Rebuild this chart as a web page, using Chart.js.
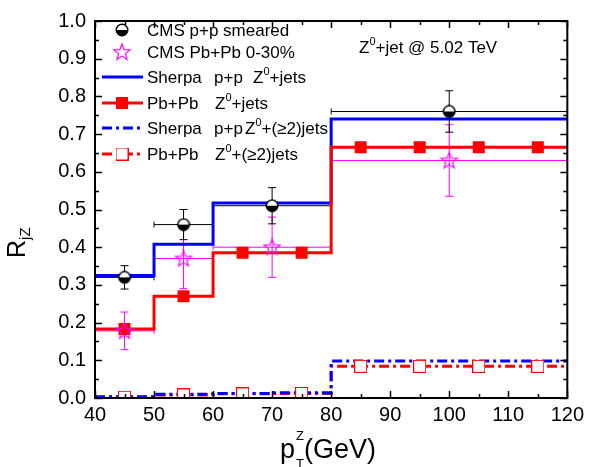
<!DOCTYPE html>
<html>
<head>
<meta charset="utf-8">
<script src="https://cdn.jsdelivr.net/npm/chart.js@4.4.0/dist/chart.umd.min.js"></script>
<style>
  body { margin: 0; background: #fff; }
  #box { width: 589px; height: 467px; }
</style>
</head>
<body>
<div id="box"><canvas id="rjz" width="589" height="467"></canvas></div>
<script>
// bins of the step curves (GeV)
var binEdges = [40, 50, 60, 70, 80, 90, 100, 110, 120];
var binCenters = [45, 55, 65, 75, 85, 95, 105, 115];

// Sherpa curves, one value per bin
var sherpaPP = [0.325, 0.408, 0.517, 0.517, 0.740, 0.740, 0.740, 0.740];
var pbpb = [0.183, 0.270, 0.385, 0.385, 0.665, 0.665, 0.665, 0.665];
var sherpaPP2 = [0.003, 0.010, 0.012, 0.014, 0.098, 0.098, 0.098, 0.098];
var pbpb2 = [0.002, 0.008, 0.011, 0.012, 0.084, 0.084, 0.084, 0.084];

// CMS data
var cmsX = [45, 55, 70, 100];
var cmsXlo = [40, 50, 60, 80];
var cmsXhi = [50, 60, 80, 120];
var cmsPP = [0.320, 0.460, 0.510, 0.760];
var cmsPPerr = [0.031, 0.040, 0.048, 0.055];
var cmsPbPb = [0.178, 0.370, 0.400, 0.630];
var cmsPbPbErr = [0.050, 0.080, 0.080, 0.095];

var yTicks = [0, 0.1, 0.2, 0.3, 0.4, 0.5, 0.6, 0.7, 0.8, 0.9, 1.0];

var FONT = "'Liberation Sans', Arial, sans-serif";
var BLUE = '#0000ff', RED = '#ff0000', MAG = '#ff00ff';

function stepData(vals) {
  var out = [];
  for (var i = 0; i < binEdges.length; i++) {
    out.push({ x: binEdges[i], y: vals[Math.min(i, vals.length - 1)] });
  }
  return out;
}
function pts(xs, ys) {
  var out = [];
  for (var i = 0; i < xs.length; i++) out.push({ x: xs[i], y: ys[i] });
  return out;
}

// marker images
function halfCircle() {
  var c = document.createElement('canvas');
  c.width = 14; c.height = 14;
  var g = c.getContext('2d');
  g.beginPath(); g.arc(7, 7, 5.8, 0, Math.PI * 2); g.fillStyle = '#fff'; g.fill();
  g.beginPath(); g.arc(7, 7, 5.8, 0, Math.PI); g.fillStyle = '#000'; g.fill();
  g.beginPath(); g.arc(7, 7, 5.8, 0, Math.PI * 2); g.lineWidth = 1.4; g.strokeStyle = '#000'; g.stroke();
  return c;
}
function starPath(g, cx, cy, ro, ri) {
  g.beginPath();
  for (var k = 0; k < 10; k++) {
    var r = k % 2 ? ri : ro;
    var a = -Math.PI / 2 + k * Math.PI / 5;
    var px = cx + r * Math.cos(a), py = cy + r * Math.sin(a);
    if (k == 0) g.moveTo(px, py); else g.lineTo(px, py);
  }
  g.closePath();
}
function openStar() {
  var c = document.createElement('canvas');
  c.width = 20; c.height = 20;
  var g = c.getContext('2d');
  starPath(g, 10, 10.5, 8.5, 3.6);
  g.lineWidth = 1.2; g.strokeStyle = MAG; g.stroke();
  return c;
}
function openSquare() {
  var c = document.createElement('canvas');
  c.width = 13; c.height = 13;
  var g = c.getContext('2d');
  g.fillStyle = '#fff'; g.fillRect(0.5, 0.5, 12, 12);
  g.lineWidth = 1; g.strokeStyle = RED; g.strokeRect(0.5, 0.5, 12, 12);
  return c;
}
var imgHalf = halfCircle(), imgStar = openStar(), imgOpenSq = openSquare();

function errBars(ctx, xs, ys, yv, ye, color) {
  ctx.save();
  ctx.strokeStyle = color; ctx.lineWidth = 1;
  for (var i = 0; i < cmsX.length; i++) {
    var px = xs.getPixelForValue(cmsX[i]);
    var py = ys.getPixelForValue(yv[i]);
    var x0 = xs.getPixelForValue(cmsXlo[i]), x1 = xs.getPixelForValue(cmsXhi[i]);
    var yt = ys.getPixelForValue(yv[i] + ye[i]), yb = ys.getPixelForValue(yv[i] - ye[i]);
    ctx.beginPath();
    ctx.moveTo(x0, py); ctx.lineTo(x1, py);
    ctx.moveTo(x0, py - 3); ctx.lineTo(x0, py + 3);
    ctx.moveTo(x1, py - 3); ctx.lineTo(x1, py + 3);
    ctx.moveTo(px, yt); ctx.lineTo(px, yb);
    ctx.moveTo(px - 4, yt); ctx.lineTo(px + 4, yt);
    ctx.moveTo(px - 4, yb); ctx.lineTo(px + 4, yb);
    ctx.stroke();
  }
  ctx.restore();
}

// text with super/subscript pieces: [text, kind]
function rich(ctx, parts, x, y, size) {
  ctx.textBaseline = 'alphabetic';
  ctx.textAlign = 'left';
  for (var i = 0; i < parts.length; i++) {
    var t = parts[i][0], k = parts[i][1];
    if (k == 'sup') {
      ctx.font = Math.round(size * 0.65) + 'px ' + FONT;
      ctx.fillText(t, x, y - size * 0.45);
    } else {
      ctx.font = size + 'px ' + FONT;
      ctx.fillText(t, x, y);
    }
    x += ctx.measureText(t).width;
  }
}

var decor = {
  id: 'decor',
  beforeDatasetsDraw: function (chart) {
    var ctx = chart.ctx, xs = chart.scales.x, ys = chart.scales.y;
    errBars(ctx, xs, ys, cmsPbPb, cmsPbPbErr, MAG);
    errBars(ctx, xs, ys, cmsPP, cmsPPerr, '#000');
  },
  afterDraw: function (chart) {
    var ctx = chart.ctx, a = chart.chartArea, xs = chart.scales.x, ys = chart.scales.y;
    ctx.save();
    // ticks, inward on all sides
    ctx.strokeStyle = '#000'; ctx.lineWidth = 1.5;
    ctx.beginPath();
    for (var v = 40; v <= 120; v += 5) {
      var px = Math.round(xs.getPixelForValue(v)) + 0.5;
      var L = (v % 10 == 0) ? 7 : 4;
      ctx.moveTo(px, a.bottom); ctx.lineTo(px, a.bottom - L);
      ctx.moveTo(px, a.top); ctx.lineTo(px, a.top + L);
    }
    for (var k = 0; k <= 20; k++) {
      var py = Math.round(ys.getPixelForValue(k * 0.05)) + 0.5;
      var L2 = (k % 2 == 0) ? 7 : 4;
      ctx.moveTo(a.left, py); ctx.lineTo(a.left + L2, py);
      ctx.moveTo(a.right, py); ctx.lineTo(a.right - L2, py);
    }
    ctx.stroke();
    // frame
    ctx.lineWidth = 2;
    ctx.strokeRect(a.left, a.top, a.right - a.left, a.bottom - a.top);

    // legend
    var rows = [30, 52, 77, 103, 128, 154];
    var lx0 = 102, lx1 = 143, mx = 122;
    ctx.drawImage(imgHalf, mx - 7, rows[0] - 7);
    ctx.drawImage(imgStar, mx - 10, rows[1] - 10);
    ctx.lineWidth = 3;
    ctx.strokeStyle = BLUE;
    ctx.beginPath(); ctx.moveTo(lx0, rows[2]); ctx.lineTo(lx1, rows[2]); ctx.stroke();
    ctx.strokeStyle = RED;
    ctx.beginPath(); ctx.moveTo(lx0, rows[3]); ctx.lineTo(lx1, rows[3]); ctx.stroke();
    ctx.fillStyle = RED; ctx.fillRect(mx - 6, rows[3] - 6, 12, 12);
    ctx.setLineDash([10, 4, 3, 4]);
    ctx.strokeStyle = BLUE;
    ctx.beginPath(); ctx.moveTo(lx0, rows[4]); ctx.lineTo(lx1, rows[4]); ctx.stroke();
    ctx.strokeStyle = RED;
    ctx.beginPath(); ctx.moveTo(lx0, rows[5]); ctx.lineTo(lx1, rows[5]); ctx.stroke();
    ctx.setLineDash([]);
    ctx.drawImage(imgOpenSq, mx - 6.5, rows[5] - 6.5);

    ctx.fillStyle = '#000';
    var s = 17, off = 6;
    rich(ctx, [['CMS p+p smeared', 'n']], 147, rows[0] + off, s);
    rich(ctx, [['CMS Pb+Pb 0-30%', 'n']], 147, rows[1] + off, s);
    rich(ctx, [['Sherpa', 'n']], 147, rows[2] + off, s);
    rich(ctx, [['p+p', 'n']], 214, rows[2] + off, s);
    rich(ctx, [['Z', 'n'], ['0', 'sup'], ['+jets', 'n']], 253, rows[2] + off, s);
    rich(ctx, [['Pb+Pb', 'n']], 147, rows[3] + off, s);
    rich(ctx, [['Z', 'n'], ['0', 'sup'], ['+jets', 'n']], 215, rows[3] + off, s);
    rich(ctx, [['Sherpa', 'n']], 147, rows[4] + off, s);
    rich(ctx, [['p+p', 'n']], 214, rows[4] + off, s);
    rich(ctx, [['Z', 'n'], ['0', 'sup'], ['+(\u22652)jets', 'n']], 245, rows[4] + off, s);
    rich(ctx, [['Pb+Pb', 'n']], 147, rows[5] + off, s);
    rich(ctx, [['Z', 'n'], ['0', 'sup'], ['+(\u22652)jets', 'n']], 215, rows[5] + off, s);

    // annotation
    rich(ctx, [['Z', 'n'], ['0', 'sup'], ['+jet @ 5.02 TeV', 'n']], 359, 53, 17);

    // x title: p_T^Z(GeV)
    ctx.font = '27px ' + FONT;
    ctx.fillText('p', 280, 458);
    ctx.font = '13px ' + FONT;
    ctx.fillText('Z', 296, 440);
    ctx.fillText('T', 296, 468);
    ctx.font = '27px ' + FONT;
    ctx.fillText('(GeV)', 304, 458);

    // y title: R_jZ
    ctx.translate(25, 258);
    ctx.rotate(-Math.PI / 2);
    ctx.font = '25px ' + FONT;
    ctx.fillText('R', 0, 0);
    var w = ctx.measureText('R').width;
    ctx.font = '15px ' + FONT;
    ctx.fillText('jZ', w, 5);
    ctx.restore();
  }
};

var config = {
  type: 'line',
  data: {
    datasets: [
      { label: 'CMS p+p smeared', data: pts(cmsX, cmsPP), showLine: false,
        pointStyle: imgHalf, pointRadius: 7, order: 0 },
      { label: 'CMS Pb+Pb 0-30%', data: pts(cmsX, cmsPbPb), showLine: false,
        pointStyle: imgStar, pointRadius: 9, order: 1 },
      { label: 'Pb+Pb Z0+jets markers', data: pts(binCenters, pbpb), showLine: false,
        pointStyle: 'rect', pointRadius: 8.5, pointBackgroundColor: RED, pointBorderWidth: 0, order: 2 },
      { label: 'Pb+Pb Z0+(>=2)jets markers', data: pts(binCenters, pbpb2), showLine: false,
        pointStyle: imgOpenSq, pointRadius: 7, order: 3 },
      { label: 'Sherpa p+p Z0+jets', data: stepData(sherpaPP), stepped: 'before',
        borderColor: BLUE, borderWidth: 3, pointRadius: 0, order: 5 },
      { label: 'Pb+Pb Z0+jets', data: stepData(pbpb), stepped: 'before',
        borderColor: RED, borderWidth: 3, pointRadius: 0, order: 4 },
      { label: 'Sherpa p+p Z0+(>=2)jets', data: stepData(sherpaPP2), stepped: 'before',
        borderColor: BLUE, borderWidth: 3, borderDash: [10, 4, 3, 4], pointRadius: 0, order: 6 },
      { label: 'Pb+Pb Z0+(>=2)jets', data: stepData(pbpb2), stepped: 'before',
        borderColor: RED, borderWidth: 3, borderDash: [10, 4, 3, 4], pointRadius: 0, order: 7 }
    ]
  },
  options: {
    responsive: false,
    animation: false,
    events: [],
    layout: { padding: { top: 13, right: 20, left: 0, bottom: 0 } },
    plugins: { legend: { display: false }, tooltip: { enabled: false } },
    scales: {
      x: {
        type: 'linear', min: 40, max: 120,
        afterFit: function (sc) { sc.height = 69; },
        grid: { display: false, drawTicks: false },
        border: { display: false },
        ticks: { stepSize: 10, padding: 5, color: '#000', font: { family: FONT, size: 20 } }
      },
      y: {
        min: 0, max: 1,
        afterFit: function (sc) { sc.width = 95; },
        afterBuildTicks: function (sc) { sc.ticks = yTicks.map(function (v) { return { value: v }; }); },
        grid: { display: false, drawTicks: false },
        border: { display: false },
        ticks: { padding: 9, color: '#000', font: { family: FONT, size: 20 },
          callback: function (v) { return v.toFixed(1); } }
      }
    }
  },
  plugins: [decor]
};

var ctx = document.getElementById('rjz');
var myChart = new Chart(ctx, config);
</script>
</body>
</html>
